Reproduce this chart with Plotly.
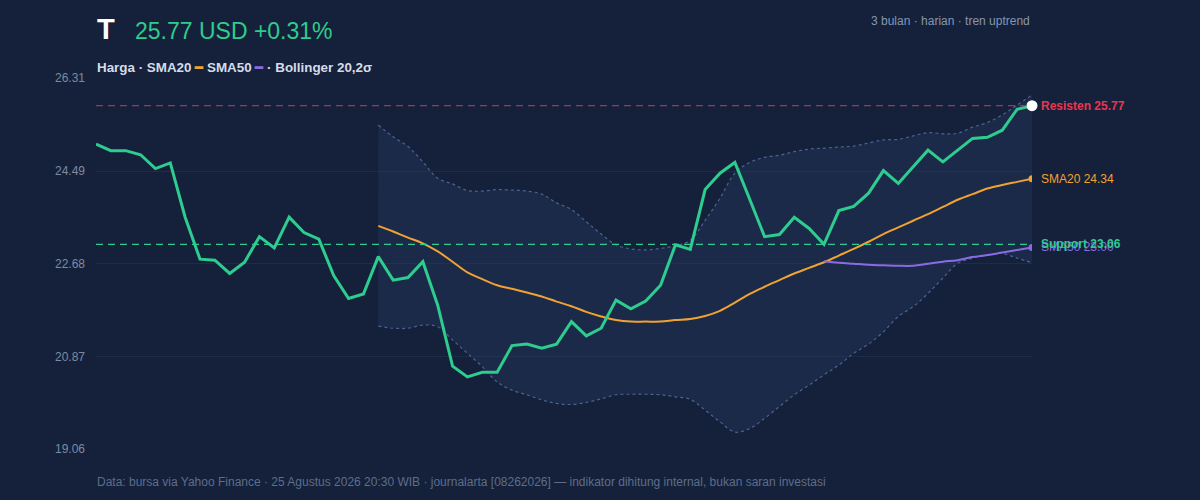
import plotly.graph_objects as go

# --- data ---
price = [25.02, 24.89, 24.89, 24.81, 24.54, 24.65, 23.59, 22.77, 22.75, 22.49,
         22.71, 23.21, 22.99, 23.59, 23.29, 23.16, 22.45, 22.00, 22.09, 22.82,
         22.36, 22.41, 22.72, 21.87, 20.68, 20.47, 20.56, 20.56, 21.08, 21.11,
         21.03, 21.11, 21.55, 21.27, 21.42, 21.97, 21.80, 21.95, 22.26, 23.05,
         22.96, 24.13, 24.45, 24.66, 23.94, 23.21, 23.25, 23.59, 23.37, 23.06,
         23.72, 23.80, 24.06, 24.50, 24.25, 24.58, 24.90, 24.67, 24.90, 25.13,
         25.15, 25.29, 25.70, 25.77]

# SMA20 / Bollinger start at day 19, SMA50 at day 49
sma20_start = 19
sma20 = [23.42, 23.31, 23.19, 23.08, 22.92, 22.72, 22.51, 22.38, 22.26, 22.19,
         22.12, 22.04, 21.94, 21.85, 21.74, 21.65, 21.58, 21.55, 21.55, 21.55,
         21.58, 21.60, 21.66, 21.76, 21.92, 22.09, 22.23, 22.36, 22.49, 22.60,
         22.71, 22.84, 22.97, 23.11, 23.26, 23.39, 23.52, 23.65, 23.79, 23.93,
         24.04, 24.15, 24.22, 24.28, 24.34]

bb_upper = [25.39, 25.16, 24.97, 24.67, 24.35, 24.24, 24.11, 24.10, 24.13, 24.12,
            24.10, 24.04, 23.87, 23.74, 23.50, 23.26, 23.05, 22.97, 22.95, 22.98,
            23.03, 23.14, 23.53, 23.96, 24.45, 24.66, 24.76, 24.80, 24.87, 24.92,
            24.94, 24.96, 24.98, 25.04, 25.10, 25.11, 25.18, 25.24, 25.22, 25.23,
            25.35, 25.44, 25.59, 25.78, 25.98]

bb_lower = [21.46, 21.42, 21.42, 21.48, 21.45, 21.19, 20.93, 20.67, 20.37, 20.21,
            20.12, 20.02, 19.95, 19.93, 19.97, 20.04, 20.12, 20.13, 20.13, 20.12,
            20.08, 20.03, 19.82, 19.59, 19.39, 19.46, 19.66, 19.89, 20.12, 20.31,
            20.51, 20.70, 20.93, 21.11, 21.35, 21.65, 21.84, 22.10, 22.40, 22.69,
            22.79, 22.85, 22.88, 22.79, 22.70]

sma50_start = 49
sma50 = [22.73, 22.70, 22.68, 22.66, 22.65, 22.64, 22.64, 22.68, 22.72, 22.75,
         22.81, 22.85, 22.90, 22.95, 23.00]

resistance = 25.77
support = 23.06
prev_close = 25.69
y_ticks = [19.06, 20.87, 22.68, 24.49, 26.31]

days = list(range(len(price)))
days_20 = days[sma20_start:]
days_50 = days[sma50_start:]

BG = "#15213a"
GREEN = "#2ecc8f"
ORANGE = "#f0a232"
PURPLE = "#8b6be3"
RED = "#e8364f"
BAND = "#4a6391"
FONT = "Liberation Sans, Arial, sans-serif"

W, H = 1200, 500
ML, MR, MT, MB = 96, 168, 78, 51

fig = go.Figure()

# Bollinger band
fig.add_trace(go.Scatter(
    x=days_20, y=bb_upper, mode="lines",
    line=dict(color=BAND, width=1.2, dash="3px,3px", shape="spline"),
    hoverinfo="skip", showlegend=False,
))
fig.add_trace(go.Scatter(
    x=days_20, y=bb_lower, mode="lines",
    line=dict(color=BAND, width=1.2, dash="3px,3px", shape="spline"),
    fill="tonexty", fillcolor="rgba(40,60,100,0.35)",
    hoverinfo="skip", showlegend=False,
))

# support / resistance
fig.add_hline(y=resistance, line=dict(color="rgba(232,54,79,0.75)", width=1.3, dash="7px,5px"))
fig.add_hline(y=support, line=dict(color=GREEN, width=1.3, dash="7px,5px"))

# moving averages
fig.add_trace(go.Scatter(
    x=days_20, y=sma20, mode="lines",
    line=dict(color=ORANGE, width=2, shape="spline"), showlegend=False,
))
fig.add_trace(go.Scatter(
    x=days_50, y=sma50, mode="lines",
    line=dict(color=PURPLE, width=2, shape="spline"), showlegend=False,
))

# price
fig.add_trace(go.Scatter(
    x=days, y=price, mode="lines",
    line=dict(color=GREEN, width=3), showlegend=False,
))

# end markers
fig.add_trace(go.Scatter(x=[days_20[-1]], y=[sma20[-1]], mode="markers",
                         marker=dict(color=ORANGE, size=7), showlegend=False))
fig.add_trace(go.Scatter(x=[days_50[-1]], y=[sma50[-1]], mode="markers",
                         marker=dict(color=PURPLE, size=7), showlegend=False))
fig.add_trace(go.Scatter(x=[days[-1]], y=[price[-1]], mode="markers",
                         marker=dict(color="white", size=11), cliponaxis=False,
                         showlegend=False))

# right-side labels (SMA50 and Support overlap in the original too)
labels = [
    (resistance, f"<b>Resisten {resistance:.2f}</b>", RED),
    (sma20[-1], f"SMA20 {sma20[-1]:.2f}", ORANGE),
    (sma50[-1], f"SMA50 {sma50[-1]:.2f}", PURPLE),
    (support, f"<b>Support {support:.2f}</b>", GREEN),
]
for yv, txt, col in labels:
    fig.add_annotation(x=1, xref="paper", y=yv, yref="y", text=txt,
                       showarrow=False, xanchor="left", xshift=7,
                       font=dict(color=col, size=12, family=FONT))


# header / footer text, positioned in page pixels
def px_x(p):
    return (p - ML) / (W - ML - MR)


def px_y(p):
    return 1 - (p - MT) / (H - MT - MB)


chg = (price[-1] / prev_close - 1) * 100
fig.add_annotation(x=px_x(95), y=px_y(29), xref="paper", yref="paper",
                   text="<b>T</b>", showarrow=False, xanchor="left", yanchor="middle",
                   font=dict(color="white", size=29, family=FONT))
fig.add_annotation(x=px_x(133), y=px_y(31), xref="paper", yref="paper",
                   text=f"{price[-1]:.2f} USD +{chg:.2f}%", showarrow=False,
                   xanchor="left", yanchor="middle",
                   font=dict(color=GREEN, size=23, family=FONT))
fig.add_annotation(x=1, y=px_y(21), xref="paper", yref="paper",
                   text="3 bulan · harian · tren uptrend", showarrow=False,
                   xanchor="right", yanchor="middle",
                   font=dict(color="#8796b0", size=12, family=FONT))
fig.add_annotation(x=px_x(95), y=px_y(67), xref="paper", yref="paper",
                   text=(f"<b>Harga · SMA20 <span style='color:{ORANGE}'>━</span> SMA50 "
                         f"<span style='color:{PURPLE}'>━</span> · Bollinger 20,2σ</b>"),
                   showarrow=False, xanchor="left", yanchor="middle",
                   font=dict(color="#d4dcea", size=13.4, family=FONT))
fig.add_annotation(x=px_x(95), y=px_y(482), xref="paper", yref="paper",
                   text=("Data: bursa via Yahoo Finance · 25 Agustus 2026 20:30 WIB · "
                         "journalarta [08262026] — indikator dihitung internal, bukan saran investasi"),
                   showarrow=False, xanchor="left", yanchor="middle",
                   font=dict(color="#5d6d8a", size=12, family=FONT))

fig.update_layout(
    width=W, height=H,
    paper_bgcolor=BG, plot_bgcolor=BG,
    margin=dict(l=ML, r=MR, t=MT, b=MB),
    font=dict(family=FONT, color="#7d8aa3", size=12),
    showlegend=False,
    xaxis=dict(range=[0, len(price) - 1], visible=False, showgrid=False),
    yaxis=dict(range=[y_ticks[0], y_ticks[-1]], tickvals=y_ticks,
               ticktext=[f"{v:.2f}" for v in y_ticks],
               gridcolor="#1f2c47", gridwidth=1, zeroline=False,
               showline=False, ticks="", ticklabelstandoff=10,
               tickfont=dict(size=12, color="#7d8aa3")),
)

fig.write_html("out.html",
               config={"displayModeBar": False},
               post_script="document.body.style.margin='0';"
                           f"document.body.style.background='{BG}';")
